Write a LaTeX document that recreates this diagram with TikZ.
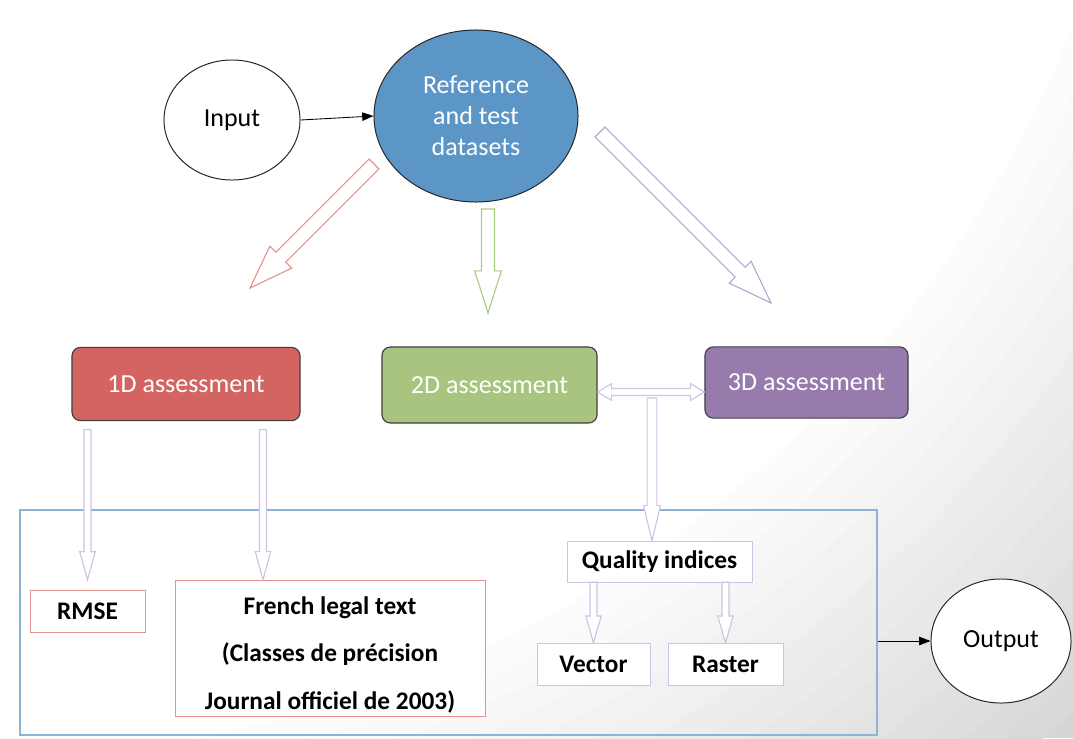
\documentclass[tikz,border=0pt]{standalone}
\usepackage{fontspec}
\setmainfont{Carlito}
\usepackage{xcolor}
\usetikzlibrary{shapes.geometric}
\usetikzlibrary{positioning}
\usetikzlibrary{calc}
\usetikzlibrary{arrows.meta}

\definecolor{refblue}{HTML}{5B96C6}
\definecolor{onered}{HTML}{D46462}
\definecolor{twogreen}{HTML}{A9C47F}
\definecolor{threepurple}{HTML}{967BAC}
\definecolor{linered}{HTML}{E8908E}
\definecolor{linegreen}{HTML}{A8CC80}
\definecolor{linepurple}{HTML}{B9A5D2}
\definecolor{palepurple}{HTML}{CFC3E3}
\definecolor{boxblue}{HTML}{8DB4D8}

% hollow block arrow: style, tail, tip, half shaft, half head, head length
\newcommand\hollowarrow[6]{%
  \coordinate (neck) at ($(#3)!#6!(#2)$);
  \draw[#1] ($(#2)!#4!90:(#3)$) -- ($(neck)!#4!90:(#3)$) -- ($(neck)!#5!90:(#3)$)
    -- (#3) -- ($(neck)!#5!-90:(#3)$) -- ($(neck)!#4!-90:(#3)$)
    -- ($(#2)!#4!-90:(#3)$) -- cycle;}

% same, with a head at both ends
\newcommand\hollowdarrow[6]{%
  \coordinate (neckA) at ($(#2)!#6!(#3)$);
  \coordinate (neckB) at ($(#3)!#6!(#2)$);
  \draw[#1] (#2) -- ($(neckA)!#5!90:(#3)$) -- ($(neckA)!#4!90:(#3)$)
    -- ($(neckB)!#4!90:(#3)$) -- ($(neckB)!#5!90:(#3)$) -- (#3)
    -- ($(neckB)!#5!-90:(#3)$) -- ($(neckB)!#4!-90:(#3)$)
    -- ($(neckA)!#4!-90:(#3)$) -- ($(neckA)!#5!-90:(#3)$) -- cycle;}

\tikzset{
  txt/.style={font=\fontsize{18.5}{22}\selectfont},
  blob/.style={ellipse, draw=black!85, line width=0.7pt, fill=white, inner sep=0pt, txt},
  assess/.style={rectangle, rounded corners=6pt, draw=black!75, line width=0.8pt,
    text=white, inner sep=0pt, txt},
  result/.style={rectangle, draw, fill=white, inner sep=0pt, minimum height=1.05cm,
    font=\fontsize{18}{21}\selectfont\bfseries},
  flow/.style={draw=black, line width=0.6pt, -{Triangle[length=8pt,width=6pt]}},
}

\begin{document}
\begin{tikzpicture}[x=0.025cm, y=-0.025cm]
  % page, greying off towards the lower right
  \useasboundingbox (0,0) rectangle (1073,738);
  \begin{scope}
    \clip (0,0) rectangle (1073,738);
    \fill[black!16] (0,0) rectangle (1073,738);
    \foreach \k in {1,...,16} {
      \pgfmathtruncatemacro\greyval{16-\k}
      \fill[black!\greyval] (0,-400) circle[radius=1570-26*\k];
    }
  \end{scope}

  % top row
  \node[blob, minimum width=3.4cm, minimum height=3cm] (input) at (232,120) {Input};
  \node[blob, fill=refblue, text=white, align=center, minimum width=5.1cm,
    minimum height=4.3cm] (ref) at (476,116) {Reference\\and test\\datasets};
  \draw[flow] (input.east) -- (ref.west);

  % assessment boxes
  \node[assess, fill=onered, minimum width=5.7cm, minimum height=1.83cm] (d1) at (186,384) {1D assessment};
  \node[assess, fill=twogreen, minimum width=5.375cm, minimum height=1.9cm] (d2) at (489.5,385) {2D assessment};
  \node[assess, fill=threepurple, minimum width=5.075cm, minimum height=1.78cm] (d3) at (806.5,382.5) {3D assessment};

  % block arrows out of the datasets
  \coordinate (redtail) at (374,164);
  \coordinate (redtip) at (250,288);
  \coordinate (greentail) at (488,209);
  \coordinate (greentip) at (488,313);
  \coordinate (purpletail) at (600,132);
  \coordinate (purpletip) at (771,303);
  \hollowarrow{linered, fill=white, line width=0.8pt}{redtail}{redtip}{5pt}{11pt}{31pt}
  \hollowarrow{linegreen, fill=white, line width=0.8pt}{greentail}{greentip}{4.6pt}{9.5pt}{30pt}
  \hollowarrow{linepurple, fill=white, line width=0.8pt}{purpletail}{purpletip}{5pt}{11pt}{31pt}

  % results frame
  \node[draw=boxblue, line width=1pt, minimum width=21.425cm, minimum height=5.625cm,
    inner sep=0pt] (results) at (448.5,622.5) {};
  \node[result, draw=linered, minimum width=2.875cm] (rmse) at (87.5,611) {RMSE};
  \node[result, draw=linered, minimum width=7.75cm, minimum height=3.4cm] (legal) at (330,648) {};
  \node[font=\fontsize{18}{34}\selectfont\bfseries, align=center] (legaltxt) at (330,655)
    {French legal text\\(Classes de précision\\Journal officiel de 2003)};
  \node[result, draw=palepurple, minimum width=4.625cm, minimum height=1.025cm] (quality) at (659.5,561.5) {Quality indices};
  \node[result, draw=palepurple, minimum width=2.825cm] (vector) at (593.5,664) {Vector};
  \node[result, draw=palepurple, minimum width=2.875cm] (raster) at (725.5,664) {Raster};

  % arrows down into the results
  \coordinate (rmsetail) at (d1.south -| 87.5,0);
  \coordinate (legaltail) at (d1.south -| 263,0);
  \hollowarrow{palepurple, fill=white, line width=0.8pt}{[yshift=-6pt]rmsetail}{[yshift=7pt]rmse.north}{2.5pt}{5.5pt}{20pt}
  \hollowarrow{palepurple, fill=white, line width=0.8pt}{[yshift=-6pt]legaltail}{legal.north -| 263,0}{2.5pt}{5.5pt}{20pt}
  \coordinate (splittail) at (652,398);
  \hollowarrow{palepurple, fill=white, line width=0.8pt}{splittail}{quality.north -| 652,0}{3.5pt}{6pt}{25pt}
  \hollowdarrow{palepurple, fill=white, line width=0.8pt}{d2.east |- 0,392}{d3.west |- 0,392}{2.5pt}{6pt}{10pt}
  \hollowarrow{palepurple, fill=white, line width=0.8pt}{quality.south -| vector}{vector.north}{2.5pt}{5.5pt}{19pt}
  \hollowarrow{palepurple, fill=white, line width=0.8pt}{quality.south -| raster}{raster.north}{2.5pt}{5.5pt}{19pt}

  % output
  \node[blob, minimum width=3.5cm, minimum height=3.1cm] (output) at (1001,641) {Output};
  \draw[flow] (results.east |- output.west) -- (output.west);
\end{tikzpicture}
\end{document}
